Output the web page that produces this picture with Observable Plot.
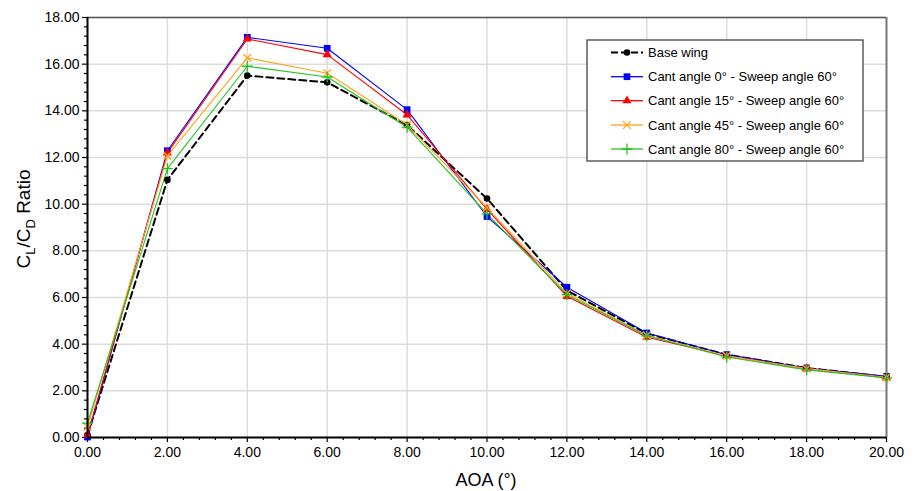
<!DOCTYPE html>
<html><head><meta charset="utf-8">
<script src="https://cdn.jsdelivr.net/npm/d3@7"></script>
<script src="https://cdn.jsdelivr.net/npm/@observablehq/plot@0.6"></script>
<style>body{margin:0;background:#fff} svg{display:block}</style>
</head><body><div id="chart"></div>
<script>
const aoa = [0, 2, 4, 6, 8, 10, 12, 14, 16, 18, 20];
const baseWing = [0.10, 11.04, 15.51, 15.22, 13.39, 10.24, 6.30, 4.45, 3.55, 2.98, 2.60];
const cant0 = [0.02, 12.29, 17.15, 16.68, 14.05, 9.47, 6.44, 4.48, 3.55, 2.98, 2.62];
const cant15 = [0.10, 12.20, 17.08, 16.41, 13.83, 9.78, 6.05, 4.30, 3.50, 2.95, 2.56];
const cant45 = [0.45, 12.07, 16.27, 15.61, 13.40, 9.85, 6.18, 4.38, 3.50, 2.95, 2.58];
const cant80 = [0.62, 11.52, 15.91, 15.45, 13.30, 9.58, 6.12, 4.36, 3.45, 2.90, 2.55];

const seriesNames = ["Base wing", "Cant angle 0° - Sweep angle 60°", "Cant angle 15° - Sweep angle 60°", "Cant angle 45° - Sweep angle 60°", "Cant angle 80° - Sweep angle 60°"];
const seriesValues = [baseWing, cant0, cant15, cant45, cant80];
const seriesColors = ["#000000", "#0000ff", "#ff0000", "#ffa31a", "#22c422"];
const seriesSymbols = ["circle", "square", "triangle", "times", "plus"];
const seriesRadius = [3.3, 3.8, 3.4, 3.6, 3.6];

const xTicks = [0, 2, 4, 6, 8, 10, 12, 14, 16, 18, 20];
const yTicks = [0, 2, 4, 6, 8, 10, 12, 14, 16, 18];
const xLabel = "AOA (°)";
const yLabelParts = [["C", false], ["L", true], ["/C", false], ["D", true], [" Ratio", false]];

const minorOf = (ticks) => {
  const out = [];
  for (let i = 0; i < ticks.length - 1; i++) {
    const a = ticks[i], b = ticks[i + 1];
    for (let k = 1; k < 5; k++) out.push(a + (b - a) * k / 5);
  }
  return out;
};
const xMinor = minorOf(xTicks);
const yMinor = minorOf(yTicks);

const rows = seriesNames.flatMap((name, i) => aoa.map((x, j) => ({series: name, idx: i, aoa: x, value: seriesValues[i][j]})));

const seriesMarks = [];
const order = [0, 1, 2, 3, 4];
for (const i of order) {
  const data = rows.filter(d => d.idx === i);
  seriesMarks.push(Plot.line(data, {
    x: "aoa", y: "value", stroke: seriesColors[i],
    strokeWidth: i === 0 ? 2 : 1.1,
    strokeDasharray: i === 0 ? "7,4" : null
  }));
}
for (const i of order) {
  const data = rows.filter(d => d.idx === i);
  const stroked = seriesSymbols[i] === "times" || seriesSymbols[i] === "plus";
  seriesMarks.push(Plot.dot(data, {
    x: "aoa", y: "value", symbol: () => seriesSymbols[i], r: seriesRadius[i],
    fill: stroked ? "none" : seriesColors[i],
    stroke: stroked ? seriesColors[i] : "none",
    strokeWidth: stroked ? 1.3 : 0
  }));
}

const chart = Plot.plot({
  width: 915, height: 491,
  marginLeft: 87, marginRight: 29, marginTop: 17, marginBottom: 54,
  x: {domain: [0, 20]},
  y: {domain: [0, 18]},
  symbol: {type: "identity"},
  style: {fontFamily: "'Liberation Sans', Arial, sans-serif", fontSize: "14px", background: "#fff", color: "#000"},
  marks: [
    Plot.gridX(xTicks.slice(1, -1), {stroke: "#dcdcdc", strokeOpacity: 1, strokeWidth: 1.5}),
    Plot.gridY(yTicks.slice(1), {stroke: "#dcdcdc", strokeOpacity: 1, strokeWidth: 1.5}),
    Plot.axisX(xMinor, {tickSize: 3, tickFormat: () => "", label: null, strokeWidth: 1.2}),
    Plot.axisY(yMinor, {tickSize: 3, tickFormat: () => "", label: null, strokeWidth: 1.2}),
    Plot.axisX(xTicks, {tickSize: 5, tickPadding: 5, tickFormat: d => d.toFixed(2), label: null, fontSize: 14, strokeWidth: 1.2}),
    Plot.axisY(yTicks, {tickSize: 5, tickPadding: 3, tickFormat: d => d.toFixed(2), label: null, fontSize: 14, strokeWidth: 1.2}),
    Plot.ruleY([18], {stroke: "#555", strokeWidth: 1.5}),
    Plot.ruleX([20], {stroke: "#777", strokeWidth: 2}),
    ...seriesMarks,
    Plot.ruleX([0], {stroke: "#000", strokeWidth: 2}),
    Plot.ruleY([0], {stroke: "#000", strokeWidth: 2})
  ]
});
document.getElementById("chart").appendChild(chart);

// Axis titles and legend
const svg = d3.select(chart);
svg.append("text")
  .attr("x", 486).attr("y", 486)
  .attr("text-anchor", "middle")
  .style("font-size", "18px").style("font-family", "'Liberation Sans', Arial, sans-serif")
  .text(xLabel);

const yl = svg.append("text")
  .attr("transform", "translate(30,219) rotate(-90)")
  .attr("text-anchor", "middle")
  .style("font-size", "19px").style("font-family", "'Liberation Sans', Arial, sans-serif");
for (const [t, sub] of yLabelParts) {
  const ts = yl.append("tspan").text(t);
  if (sub) ts.attr("dy", 5).style("font-size", "13px");
  else if (t !== "C") ts.attr("dy", -5);
}

const lg = svg.append("g").attr("text-anchor", "start");
lg.append("rect").attr("x", 587).attr("y", 40).attr("width", 276).attr("height", 121)
  .attr("fill", "#fff").attr("stroke", "#444").attr("stroke-width", 1.3);
const rowY = [52.5, 76.7, 100.7, 125, 149];
seriesNames.forEach((name, i) => {
  const y = rowY[i];
  lg.append("line").attr("x1", 611).attr("x2", 643).attr("y1", y).attr("y2", y)
    .attr("stroke", seriesColors[i]).attr("stroke-width", i === 0 ? 2 : 1.3)
    .attr("stroke-dasharray", i === 0 ? "7,3" : null);
  const symMap = {circle: d3.symbolCircle, square: d3.symbolSquare, triangle: d3.symbolTriangle, times: d3.symbolTimes, plus: d3.symbolPlus};
  const stroked = seriesSymbols[i] === "times" || seriesSymbols[i] === "plus";
  lg.append("path")
    .attr("d", d3.symbol(symMap[seriesSymbols[i]], Math.PI * seriesRadius[i] * seriesRadius[i])())
    .attr("transform", `translate(627,${y})`)
    .attr("fill", stroked ? "none" : seriesColors[i])
    .attr("stroke", stroked ? seriesColors[i] : "none").attr("stroke-width", 1.3);
  lg.append("text").attr("x", 648).attr("y", y).attr("dy", "0.35em")
    .attr("text-anchor", "start")
    .style("font-size", "13px").style("font-family", "'Liberation Sans', Arial, sans-serif")
    .text(name);
});
</script>
</body></html>
